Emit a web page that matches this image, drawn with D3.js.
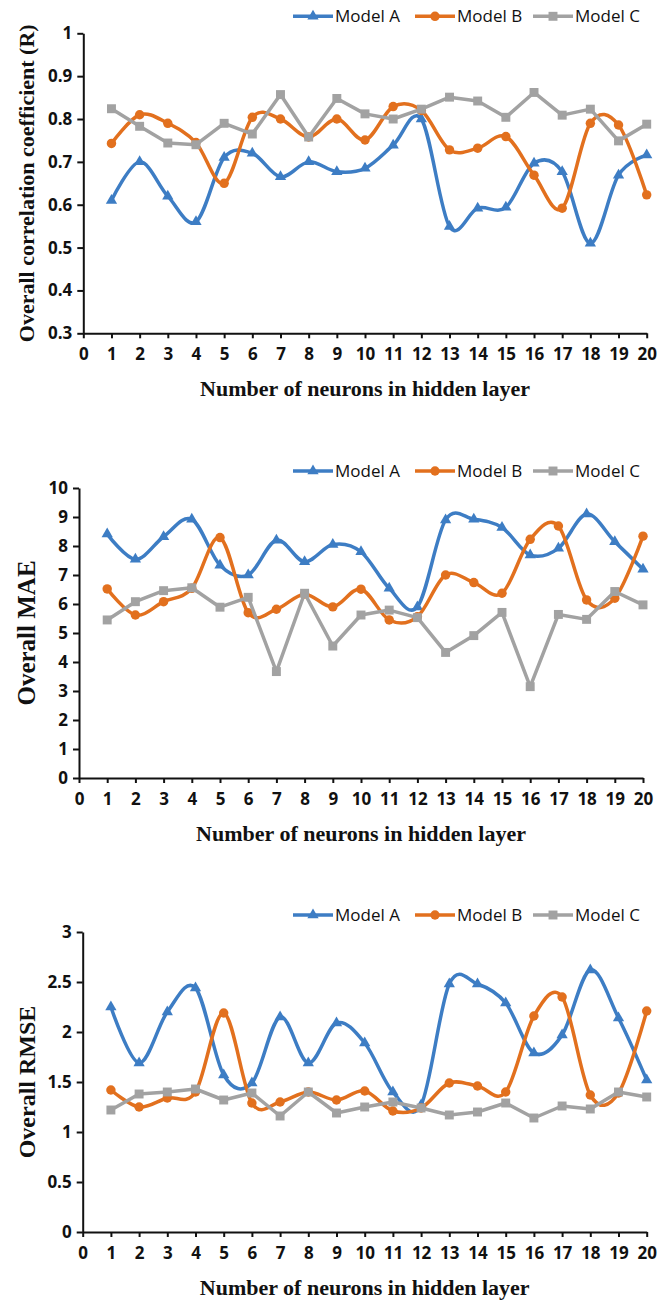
<!DOCTYPE html>
<html>
<head>
<meta charset="utf-8">
<script src="https://cdn.jsdelivr.net/npm/d3@7"></script>
<style>
  body { margin: 0; background: #fff; }
  svg { display: block; }
  .tick text { font-family: "Open Sans", sans-serif; font-weight: 700; font-size: 17px; fill: #111; }
  .axis path, .axis line { stroke: #111; stroke-width: 2; }
  .ytitle, .xtitle { font-family: "Liberation Serif", serif; font-weight: 700; fill: #111; }
  .legend text { font-family: "Open Sans", sans-serif; font-size: 17px; fill: #111; }
</style>
</head>
<body>
<div id="chart"></div>
<script>
// x categories: number of neurons in hidden layer
let neurons = [1, 2, 3, 4, 5, 6, 7, 8, 9, 10, 11, 12, 13, 14, 15, 16, 17, 18, 19, 20];
let xTicks = [0, 1, 2, 3, 4, 5, 6, 7, 8, 9, 10, 11, 12, 13, 14, 15, 16, 17, 18, 19, 20];
let models = ["Model A", "Model B", "Model C"];

// overall correlation coefficient (R)
let rModelA = [0.61, 0.70, 0.62, 0.56, 0.71, 0.72, 0.665, 0.70, 0.677, 0.685, 0.739, 0.80, 0.549, 0.592, 0.594, 0.697, 0.677, 0.51, 0.669, 0.716];
let rModelB = [0.743, 0.81, 0.79, 0.745, 0.65, 0.804, 0.80, 0.758, 0.80, 0.751, 0.829, 0.82, 0.728, 0.732, 0.759, 0.669, 0.592, 0.79, 0.786, 0.623];
let rModelC = [0.824, 0.783, 0.744, 0.74, 0.79, 0.765, 0.857, 0.758, 0.848, 0.812, 0.80, 0.823, 0.851, 0.842, 0.804, 0.862, 0.809, 0.823, 0.749, 0.788];
let rTicks = [0.3, 0.4, 0.5, 0.6, 0.7, 0.8, 0.9, 1];

// overall MAE
let maeModelA = [8.41, 7.54, 8.32, 8.92, 7.34, 7.0, 8.2, 7.46, 8.05, 7.8, 6.54, 5.9, 8.9, 8.92, 8.64, 7.69, 7.92, 9.1, 8.15, 7.2];
let maeModelB = [6.52, 5.62, 6.08, 6.54, 8.29, 5.7, 5.82, 6.34, 5.9, 6.51, 5.45, 5.56, 7.0, 6.74, 6.37, 8.23, 8.69, 6.14, 6.2, 8.34];
let maeModelC = [5.45, 6.08, 6.46, 6.56, 5.89, 6.23, 3.67, 6.37, 4.55, 5.62, 5.79, 5.53, 4.33, 4.91, 5.71, 3.15, 5.64, 5.47, 6.43, 5.97];
let maeTicks = [0, 1, 2, 3, 4, 5, 6, 7, 8, 9, 10];

// overall RMSE
let rmseModelA = [2.25, 1.69, 2.2, 2.44, 1.57, 1.49, 2.15, 1.69, 2.09, 1.89, 1.40, 1.27, 2.48, 2.48, 2.29, 1.79, 1.97, 2.62, 2.14, 1.52];
let rmseModelB = [1.42, 1.25, 1.34, 1.40, 2.19, 1.29, 1.30, 1.40, 1.32, 1.41, 1.21, 1.24, 1.49, 1.46, 1.40, 2.16, 2.35, 1.37, 1.39, 2.21];
let rmseModelC = [1.22, 1.38, 1.40, 1.43, 1.32, 1.39, 1.16, 1.40, 1.19, 1.25, 1.30, 1.24, 1.17, 1.20, 1.29, 1.14, 1.26, 1.23, 1.40, 1.35];
let rmseTicks = [0, 0.5, 1, 1.5, 2, 2.5, 3];

let colors = ["#3d7dc4", "#e2701e", "#a2a2a2"];

let width = 660,
    height = 1302;

let svg = d3.select("#chart").append("svg")
    .attr("width", width)
    .attr("height", height);

let charts = [
  {series: [rModelA, rModelB, rModelC], ticks: rTicks, title: "Overall correlation coefficient (R)", titleSize: 22,
   left: 83.3, right: 646.7, top: 33.3, bottom: 333.3},
  {series: [maeModelA, maeModelB, maeModelC], ticks: maeTicks, title: "Overall MAE", titleSize: 25,
   left: 79, right: 643, top: 488, bottom: 778},
  {series: [rmseModelA, rmseModelB, rmseModelC], ticks: rmseTicks, title: "Overall RMSE", titleSize: 24,
   left: 82.7, right: 646.7, top: 932, bottom: 1232}
];

charts.forEach(c => drawChart(c));

function drawChart(c) {
  let x = d3.scaleLinear().domain([0, 20]).range([c.left, c.right]);
  let y = d3.scaleLinear().domain(d3.extent(c.ticks)).range([c.bottom, c.top]);

  let g = svg.append("g");

  // axes
  g.append("g")
      .attr("class", "axis")
      .attr("transform", "translate(0," + c.bottom + ")")
      .call(d3.axisBottom(x).tickValues(xTicks).tickFormat(d3.format("d")).tickSize(5).tickSizeOuter(0).tickPadding(10));

  g.append("g")
      .attr("class", "axis")
      .attr("transform", "translate(" + c.left + ",0)")
      .call(d3.axisLeft(y).tickValues(c.ticks).tickFormat(d => String(d)).tickSize(6).tickSizeOuter(0).tickPadding(5));

  // titles
  g.append("text")
      .attr("class", "xtitle")
      .attr("x", (c.left + c.right) / 2)
      .attr("y", c.bottom + 63)
      .attr("text-anchor", "middle")
      .style("font-size", "22px")
      .text("Number of neurons in hidden layer");

  g.append("text")
      .attr("class", "ytitle")
      .attr("transform", "translate(" + (27 + c.titleSize * 0.33) + "," + ((c.top + c.bottom) / 2) + ") rotate(-90)")
      .attr("text-anchor", "middle")
      .style("font-size", c.titleSize + "px")
      .text(c.title);

  // series
  c.series.forEach((values, i) => {
    let pts = neurons.map((n, j) => [n, values[j]]);
    let line = d3.line()
        .x(d => x(d[0]))
        .y(d => y(d[1]))
        .curve(i == 2 ? d3.curveLinear : d3.curveCardinal.tension(0));

    g.append("path")
        .datum(pts)
        .attr("fill", "none")
        .attr("stroke", colors[i])
        .attr("stroke-width", 3.5)
        .attr("stroke-linejoin", "round")
        .attr("d", line);

    g.append("g").selectAll("path")
        .data(pts)
      .enter().append("path")
        .attr("transform", d => "translate(" + x(d[0]) + "," + y(d[1]) + ")")
        .attr("d", markerPath(i))
        .attr("fill", colors[i]);
  });

  // legend
  let legendX = [293, 415, 533];
  let legend = g.append("g").attr("class", "legend");
  models.forEach((m, i) => {
    let ly = c.top - 17;
    legend.append("line")
        .attr("x1", legendX[i]).attr("x2", legendX[i] + 40)
        .attr("y1", ly).attr("y2", ly)
        .attr("stroke", colors[i])
        .attr("stroke-width", 3.5);
    legend.append("path")
        .attr("transform", "translate(" + (legendX[i] + 20) + "," + ly + ")")
        .attr("d", markerPath(i))
        .attr("fill", colors[i]);
    legend.append("text")
        .attr("x", legendX[i] + 42)
        .attr("y", ly + 6)
        .text(m);
  });
}

function markerPath(i) {
  if (i == 0) return d3.symbol(d3.symbolTriangle, 55)();
  if (i == 1) return d3.symbol(d3.symbolCircle, 70)();
  return d3.symbol(d3.symbolSquare, 80)();
}
</script>
</body>
</html>
